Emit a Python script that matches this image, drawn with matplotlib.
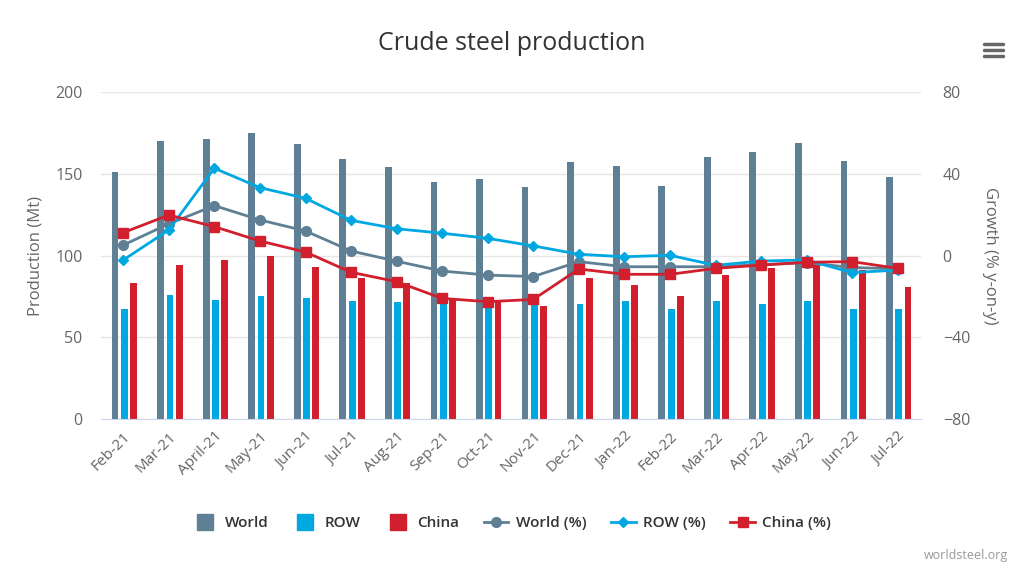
import matplotlib
matplotlib.use("Agg")
import matplotlib.pyplot as plt
from matplotlib.lines import Line2D
import numpy as np

months = ["Feb-21", "Mar-21", "April-21", "May-21", "Jun-21", "Jul-21", "Aug-21",
          "Sep-21", "Oct-21", "Nov-21", "Dec-21", "Jan-22", "Feb-22", "Mar-22",
          "Apr-22", "May-22", "Jun-22", "Jul-22"]
world = [151, 170, 171, 175, 168, 159, 154, 145, 147, 142, 157, 155, 142.5, 160, 163.5, 169, 158, 148]
row = [67, 76, 73, 75, 74, 72, 71.5, 71, 70, 70, 70.5, 72, 67, 72, 70.5, 72, 67, 67]
china = [83, 94, 97, 100, 93, 86.5, 83, 73.5, 71.5, 69, 86, 82, 75, 88, 92.5, 95, 91, 80.5]
world_pct = [5.1, 15.5, 24.4, 17.4, 12.0, 2.2, -2.8, -7.6, -9.6, -10.3, -3.0, -5.5, -5.5, -5.5, -4.5, -3.5, -5.9, -6.5]
row_pct = [-2.2, 12.5, 42.7, 33.2, 28.0, 17.2, 13.1, 10.9, 8.4, 4.7, 0.6, -0.6, 0.1, -4.8, -2.7, -2.2, -8.4, -7.1]
china_pct = [11.2, 19.8, 14.1, 7.1, 1.7, -8.2, -12.8, -21.0, -22.6, -21.5, -6.6, -9.2, -9.2, -6.3, -4.7, -3.3, -3.0, -6.3]

C_WORLD = "#5E7F94"
C_ROW = "#00A8E1"
C_CHINA = "#D21F2D"
TXT = "#666666"

plt.rcParams['font.family'] = ['Open Sans', 'DejaVu Sans']

fig = plt.figure(figsize=(10.24, 5.74), dpi=100)
ax = fig.add_axes([100.5/1024, 1-419/574, 820/1024, 327/574])
ax2 = ax.twinx()

x = np.arange(len(months))
w = 0.15
ax.bar(x - 0.18, world, w, color=C_WORLD, zorder=2)
ax.bar(x + 0.025, row, w, color=C_ROW, zorder=2)
ax.bar(x + 0.225, china, w, color=C_CHINA, zorder=2)

ax.set_ylim(0, 200)
ax.set_yticks([0, 50, 100, 150, 200])
ax.set_xlim(-0.5, len(months) - 0.5)
ax.grid(axis='y', color='#e6e6e6', linewidth=1, zorder=0)
ax.set_axisbelow(True)
for s in ['top', 'right', 'left']:
    ax.spines[s].set_visible(False)
    ax2.spines[s].set_visible(False)
ax.spines['bottom'].set_color('#ccd6eb')
ax2.spines['bottom'].set_visible(False)
ax.set_xticks(x)
ax.set_xticklabels(months, rotation=45, ha='right', rotation_mode='anchor', color=TXT, fontsize=11)
ax.tick_params(axis='x', length=0, pad=7)
ax.tick_params(axis='y', length=0, labelcolor=TXT, labelsize=11.5, pad=13)
ax.set_ylabel("Production (Mt)", color=TXT, fontsize=12, labelpad=8)

ax2.plot(x, world_pct, color=C_WORLD, lw=2, marker='o', ms=7, zorder=3)
ax2.plot(x, row_pct, color=C_ROW, lw=2, marker='D', ms=5.5, zorder=3)
ax2.plot(x, china_pct, color=C_CHINA, lw=2, marker='s', ms=7.5, zorder=4)
ax2.set_ylim(-80, 80)
ax2.set_yticks([-80, -40, 0, 40, 80])
ax2.tick_params(axis='y', length=0, labelcolor=TXT, labelsize=11.5, pad=16)
ax2.set_ylabel("Growth (% y-on-y)", color=TXT, fontsize=12, rotation=270, labelpad=20)

fig.text(0.5, 1-44/574, "Crude steel production", ha='center', va='center', fontsize=18, color='#333333')

handles = [
    Line2D([], [], ls='none', marker='s', ms=11.5, color=C_WORLD, label='World'),
    Line2D([], [], ls='none', marker='s', ms=11.5, color=C_ROW, label='ROW'),
    Line2D([], [], ls='none', marker='s', ms=11.5, color=C_CHINA, label='China'),
    Line2D([], [], color=C_WORLD, lw=2, marker='o', ms=7, label='World (%)'),
    Line2D([], [], color=C_ROW, lw=2, marker='D', ms=5, label='ROW (%)'),
    Line2D([], [], color=C_CHINA, lw=2, marker='s', ms=7, label='China (%)'),
]
leg = fig.legend(handles=handles, loc='center', bbox_to_anchor=(0.5, 1-523/574), ncol=6,
                 frameon=False, fontsize=11, handlelength=1.6, handletextpad=0.5, columnspacing=1.6)
for t in leg.get_texts():
    t.set_color('#333333')
    t.set_fontweight('semibold')

fig.text(1008/1024, 1-556/574, "worldsteel.org", ha='right', va='center', fontsize=9, color='#999999')

# menu icon
for yy in [44, 50, 56]:
    fig.add_artist(Line2D([984/1024, 1003/1024], [1-yy/574, 1-yy/574], color='#666666', lw=2.5,
                          solid_capstyle='round'))

fig.savefig("out.png", dpi=100)
